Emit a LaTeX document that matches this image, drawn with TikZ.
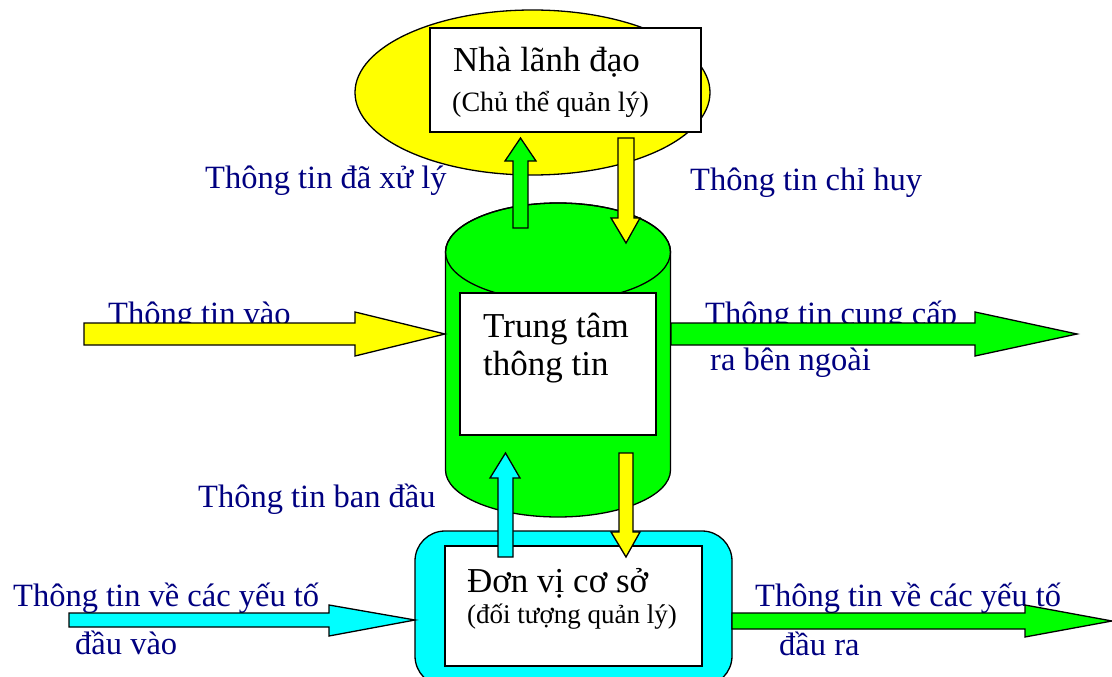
\documentclass[tikz,border=0pt]{standalone}
\usepackage{fontspec}
\setmainfont{Liberation Serif}
\usetikzlibrary{shapes.geometric}
\definecolor{navytxt}{RGB}{0,0,128}
\definecolor{yel}{RGB}{255,255,0}
\definecolor{grn}{RGB}{0,255,0}
\definecolor{cyn}{RGB}{0,255,255}
\tikzset{
  outl/.style={draw=black, line width=1.3pt, line join=miter},
  boxw/.style={outl, fill=white, inner sep=0pt, rectangle},
  lbl/.style={text=navytxt, inner sep=0pt, anchor=base west, font=\fontsize{32.5}{38}\selectfont},
  bigtxt/.style={text=black, inner sep=0pt, anchor=base west, font=\fontsize{35}{40}\selectfont},
  smalltxt/.style={text=black, inner sep=0pt, anchor=base west, font=\fontsize{28}{32}\selectfont},
}
\begin{document}
\begin{tikzpicture}[x=1pt,y=-1pt]
\clip (0,0) rectangle (1112,677);
\fill[white] (0,0) rectangle (1112,677);

% leader ellipse and box
\node[outl, fill=yel, ellipse, minimum width=355pt, minimum height=165pt, inner sep=0pt] (lead) at (532.5,92.5) {};
\node[boxw, minimum width=271pt, minimum height=104pt] (leadbox) at (565.5,80) {};
\node[bigtxt] (leadt1) at (453,72) {Nhà lãnh đạo};
\node[smalltxt] (leadt2) at (452,111) {(Chủ thể quản lý)};

% cylinder
\draw[outl, fill=grn] (445.5,252) -- (445.5,470) arc[start angle=180, end angle=0, x radius=112.5, y radius=47] -- (670.5,252) arc[start angle=0, end angle=-180, x radius=112.5, y radius=49] -- cycle;
\draw[outl] (558,252) ellipse[x radius=112.5, y radius=49];
\node[boxw, minimum width=196pt, minimum height=142pt] (centerbox) at (558,364) {};
\node[bigtxt] (ct1) at (483,337) {Trung tâm};
\node[bigtxt] (ct2) at (483,375) {thông tin};

% base unit
\draw[outl, fill=cyn, rounded corners=30pt] (415,531) rectangle (732,686);
\node[boxw, minimum width=257pt, minimum height=120pt] (basebox) at (573.5,606) {};
\node[bigtxt] (bt1) at (467,592) {Đơn vị cơ sở};
\node[smalltxt, font=\fontsize{27}{32}\selectfont] (bt2) at (467,623) {(đối tượng quản lý)};

% labels
\node[lbl] (l1) at (205,188) {Thông tin đã xử lý};
\node[lbl] (l2) at (690,190) {Thông tin chỉ huy};
\node[lbl] (l3) at (108,324) {Thông tin vào};
\node[lbl] (l4) at (705,324) {Thông tin cung cấp};
\node[lbl] (l5) at (710,370) {ra bên ngoài};
\node[lbl] (l6) at (198,507) {Thông tin ban đầu};
\node[lbl] (l7) at (13,606) {Thông tin về các yếu tố};
\node[lbl] (l8) at (75,654) {đầu vào};
\node[lbl] (l9) at (755,606) {Thông tin về các yếu tố};
\node[lbl] (l10) at (779,655) {đầu ra};

% block arrows
\draw[outl, fill=grn] (513,228) -- (513,161) -- (505,161) -- (520.5,138) -- (536,161) -- (528,161) -- (528,228) -- cycle;
\draw[outl, fill=yel] (618,138) -- (618,218) -- (611,218) -- (626,243) -- (640,218) -- (634,218) -- (634,138) -- cycle;
\draw[outl, fill=yel] (84,323) -- (355,323) -- (355,312) -- (445,334) -- (355,356) -- (355,345) -- (84,345) -- cycle;
\draw[outl, fill=grn] (671,323) -- (975,323) -- (975,312) -- (1077,334) -- (975,356) -- (975,345) -- (671,345) -- cycle;
\draw[outl, fill=cyn] (498,557) -- (498,478) -- (490,478) -- (505.5,453) -- (520,478) -- (513,478) -- (513,557) -- cycle;
\draw[outl, fill=yel] (619,453) -- (619,532) -- (611,532) -- (626,557) -- (640,532) -- (633,532) -- (633,453) -- cycle;
\draw[outl, fill=cyn] (69,613) -- (329,613) -- (329,605) -- (415,620) -- (329,636) -- (329,627) -- (69,627) -- cycle;
\draw[outl, fill=grn] (732,613) -- (1025,613) -- (1025,605) -- (1112,621) -- (1025,637) -- (1025,629) -- (732,629) -- cycle;
\end{tikzpicture}
\end{document}
